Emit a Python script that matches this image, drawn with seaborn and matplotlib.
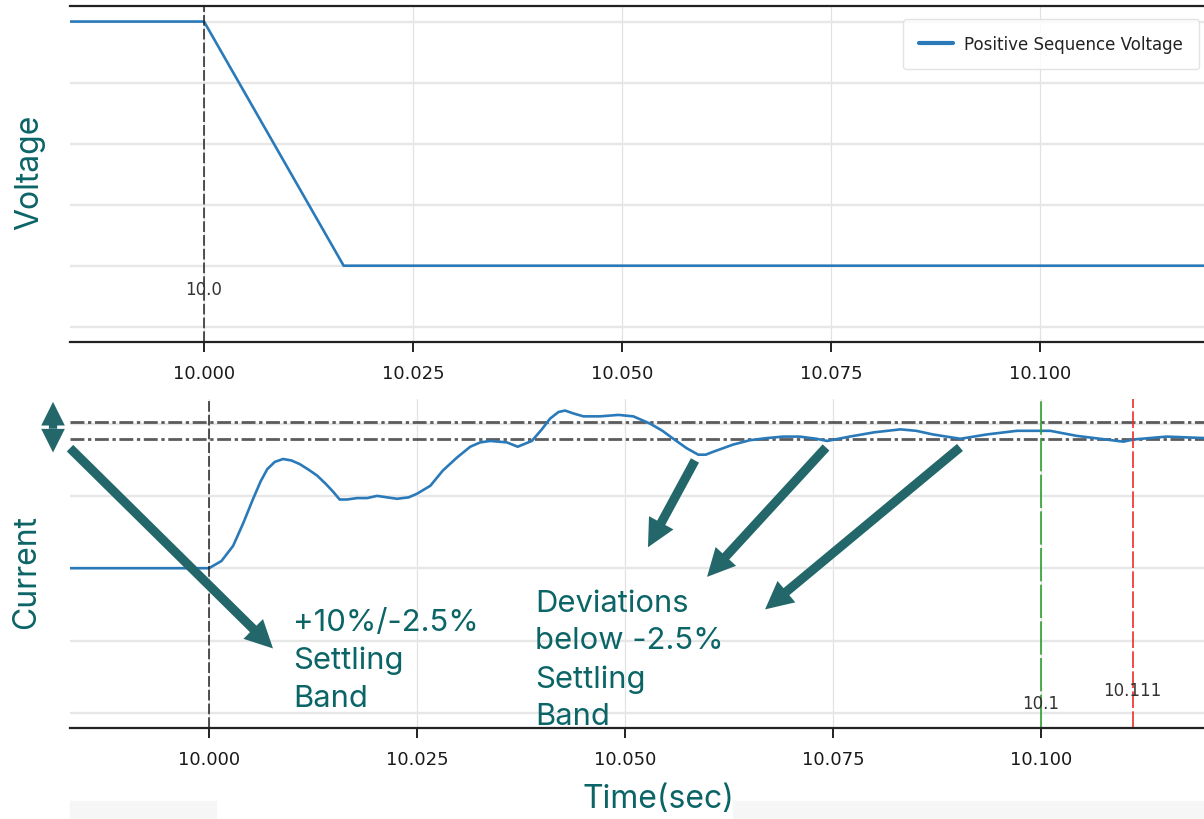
import matplotlib
matplotlib.use("Agg")
import matplotlib.pyplot as plt
import pandas as pd
import seaborn as sns
from matplotlib.font_manager import FontProperties
from matplotlib.patches import Rectangle

# ---- data -------------------------------------------------------------
volt_time = [9.984, 10.0, 10.0167, 10.1196]
volt_pu = [1.0, 1.0, 0.2, 0.2]

curr_time = [9.9833, 10.0000, 10.0015, 10.0029, 10.0041, 10.0053, 10.0062,
             10.0070, 10.0079, 10.0089, 10.0099, 10.0109, 10.0120, 10.0130,
             10.0140, 10.0149, 10.0157, 10.0166, 10.0178, 10.0190, 10.0202,
             10.0214, 10.0226, 10.0240, 10.0250, 10.0266, 10.0281, 10.0298,
             10.0314, 10.0326, 10.0338, 10.0358, 10.0371, 10.0388, 10.0400,
             10.0410, 10.0420, 10.0428, 10.0438, 10.0450, 10.0470, 10.0492,
             10.0510, 10.0530, 10.0545, 10.0558, 10.0574, 10.0588, 10.0597,
             10.0606, 10.0630, 10.0650, 10.0671, 10.0690, 10.0710, 10.0730,
             10.0743, 10.0770, 10.0800, 10.0831, 10.0850, 10.0870, 10.0903,
             10.0935, 10.0971, 10.1011, 10.1043, 10.1071, 10.1099, 10.1111,
             10.1151, 10.1196]
curr_val = [2.00, 2.00, 2.10, 2.31, 2.62, 2.96, 3.20,
            3.37, 3.47, 3.51, 3.49, 3.44, 3.36, 3.28,
            3.17, 3.06, 2.95, 2.95, 2.97, 2.97, 3.00,
            2.98, 2.96, 2.98, 3.03, 3.14, 3.35, 3.53,
            3.68, 3.74, 3.76, 3.74, 3.68, 3.76, 3.92,
            4.07, 4.16, 4.18, 4.14, 4.10, 4.10, 4.12,
            4.10, 4.00, 3.90, 3.79, 3.66, 3.57, 3.57,
            3.61, 3.71, 3.77, 3.80, 3.82, 3.82, 3.79,
            3.76, 3.82, 3.88, 3.92, 3.90, 3.85, 3.79,
            3.85, 3.90, 3.90, 3.83, 3.79, 3.75, 3.78,
            3.82, 3.80]

band_upper = 4.02   # +10 % limit
band_lower = 3.78   # -2.5 % limit

fault_time = 10.0
settle_time = 10.1
settled_time = 10.111

x_ticks = [10.000, 10.025, 10.050, 10.075, 10.100]
x_tick_labels = ["10.000", "10.025", "10.050", "10.075", "10.100"]
volt_grid = [0.0, 0.2, 0.4, 0.6, 0.8, 1.0]
curr_grid = [0, 1, 2, 3, 4]

# ---- style ------------------------------------------------------------
sns.set_theme(style="whitegrid")
plt.rcParams["font.family"] = ["DejaVu Sans"]

TEAL = "#0b6466"
ARROW = "#24676a"
BLUE = "#2a7ab9"
tick_font = FontProperties(family="DejaVu Sans", size=13)
mark_font = FontProperties(family="DejaVu Sans", size=12)
legend_font = FontProperties(family="DejaVu Sans", size=12)
label_font = FontProperties(family="Inter", size=23)
note_font = FontProperties(family="Inter", size=22.3)

W, H = 1204, 820
fig = plt.figure(figsize=(W / 100, H / 100), dpi=100)
fig.patch.set_facecolor("white")

ax1 = fig.add_axes([70 / W, 477 / H, 1134 / W, 335.7 / H])
ax2 = fig.add_axes([70 / W, 91 / H, 1134 / W, 329 / H])

# ---- voltage panel ----------------------------------------------------
vdf = pd.DataFrame({"time": volt_time, "voltage": volt_pu})
sns.lineplot(data=vdf, x="time", y="voltage", ax=ax1, color=BLUE, lw=1.9,
             estimator=None, sort=False, label="Positive Sequence Voltage")
ax1.set_xlim(9.98397, 10.1196)
ax1.set_ylim(-0.05, 1.05)
ax1.axvline(fault_time, color="#222222", lw=1.1, ls=(0, (7, 2)))
ax1.text(fault_time, 0.125, "10.0", ha="center", va="center",
         fontproperties=mark_font, color="#333333")

# ---- current panel ----------------------------------------------------
cdf = pd.DataFrame({"time": curr_time, "current": curr_val})
sns.lineplot(data=cdf, x="time", y="current", ax=ax2, color=BLUE, lw=1.9,
             estimator=None, sort=False)
ax2.set_xlim(9.98329, 10.11959)
ax2.set_ylim(-0.21, 4.34)
for lvl in (band_upper, band_lower):
    ax2.axhline(lvl, color="#4a4a4a", lw=2.0, ls=(0, (5, 1.3, 1.2, 1.3)),
                alpha=0.9, zorder=1.5)
ax2.axvline(fault_time, color="#222222", lw=1.1, ls=(0, (7, 2)))
ax2.axvline(settle_time, color="#2e9e2e", lw=1.2, ls=(0, (20, 2)))
ax2.axvline(settled_time, color="#ee2f2a", lw=1.2, ls=(0, (10, 2)))
ax2.text(settle_time, 0.14, "10.1", ha="center", va="center",
         fontproperties=mark_font, color="#333333")
ax2.text(settled_time, 0.31, "10.111", ha="center", va="center",
         fontproperties=mark_font, color="#333333")

# ---- shared axis cosmetics -------------------------------------------
for ax, ygrid in ((ax1, volt_grid), (ax2, curr_grid)):
    ax.set_facecolor("white")
    ax.set_xticks(x_ticks)
    ax.set_xticklabels(x_tick_labels)
    for lbl in ax.get_xticklabels():
        lbl.set_fontproperties(tick_font)
        lbl.set_color("#1a1a1a")
    ax.set_yticks(ygrid)
    ax.set_yticklabels([])
    ax.tick_params(axis="y", length=0)
    ax.tick_params(axis="x", length=7, width=1.4, color="#222222",
                   pad=9, bottom=True)
    ax.grid(False)
    ax.grid(True, axis="y", color="#e7e7e7", lw=1.7)
    ax.grid(True, axis="x", color="#e2e2e2", lw=0.9)
    ax.set_xlabel("")
    ax.set_ylabel("")
    for side in ("left", "right"):
        ax.spines[side].set_visible(False)
    ax.spines["bottom"].set_color("#222222")
    ax.spines["bottom"].set_linewidth(1.6)
ax1.spines["top"].set_color("#222222")
ax1.spines["top"].set_linewidth(1.6)
ax2.spines["top"].set_visible(False)

leg = ax1.legend(loc="upper right", bbox_to_anchor=(1 - 5 / 1134, 1 - 13 / 336),
                 borderaxespad=0, prop=legend_font, frameon=True, fancybox=True,
                 handlelength=2.0, borderpad=0.95, handletextpad=0.7)
leg.get_frame().set_edgecolor("#dddddd")
leg.get_frame().set_linewidth(1.0)
for txt in leg.get_texts():
    txt.set_color("#222222")
for line in leg.get_lines():
    line.set_linewidth(3.0)

# ---- axis titles ------------------------------------------------------
fig.text(30 / W, 1 - 172 / H, "Voltage", rotation=90, ha="center", va="center",
         fontproperties=label_font, color=TEAL)
fig.text(27 / W, 1 - 572 / H, "Current", rotation=90, ha="center", va="center",
         fontproperties=label_font, color=TEAL)
fig.text(658 / W, 1 - 800 / H, "Time(sec)", ha="center", va="center",
         fontproperties=label_font, color=TEAL)

# light strip along the bottom edge
for x0, x1 in ((70, 216), (733, 1204)):
    fig.patches.append(Rectangle((x0 / W, 0), (x1 - x0) / W, 18 / H,
                                 transform=fig.transFigure, color="#f6f6f6",
                                 zorder=0))

# ---- callouts ---------------------------------------------------------
fig.text(293 / W, 1 - 609 / H, "+10%/-2.5%\nSettling\nBand", ha="left",
         va="top", fontproperties=note_font, color=TEAL, linespacing=1.43)
fig.text(535 / W, 1 - 590 / H, "Deviations\nbelow -2.5%\nSettling\nBand",
         ha="left", va="top", fontproperties=note_font, color=TEAL,
         linespacing=1.43)

arrow_style = "simple,head_length=1.0,head_width=1.0,tail_width=0.33"
marker_style = "simple,head_length=1.0,head_width=1.0,tail_width=0.35"


def callout(ax, start, end, style=arrow_style, scale=20):
    ax.annotate("", xy=end, xytext=start, xycoords="data", textcoords="data",
                annotation_clip=False,
                arrowprops=dict(arrowstyle=style, color=ARROW, lw=0,
                                mutation_scale=scale, shrinkA=0, shrinkB=0))


# double-headed marker for the band width
callout(ax2, (9.98125, 3.93), (9.98125, 4.30), marker_style, 17)
callout(ax2, (9.98125, 3.93), (9.98125, 3.60), marker_style, 17)
# band callout
callout(ax2, (9.98329, 3.66), (10.00769, 0.89))
# deviation callouts
callout(ax2, (10.05841, 3.49), (10.05276, 2.29))
callout(ax2, (10.07416, 3.67), (10.05986, 1.88))
callout(ax2, (10.09026, 3.67), (10.06683, 1.43))

fig.savefig("out.png", dpi=100, facecolor="white")
